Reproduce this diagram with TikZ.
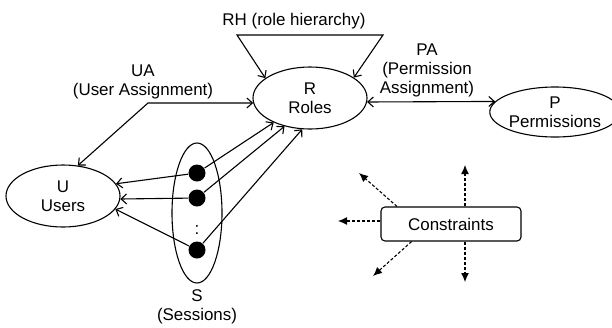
\documentclass[tikz,border=0pt]{standalone}
\usepackage{fontspec}
\setmainfont{Liberation Sans}
\usetikzlibrary{shapes.geometric}
\usetikzlibrary{arrows.meta}
\usetikzlibrary{positioning}

\begin{document}
\begin{tikzpicture}
    [
    x=1bp,y=-1bp,
    line width=1.1bp,
    >={Straight Barb[length=5.5bp,width=10bp]},
    every node/.style={font=\fontsize{17}{19}\selectfont,align=center},
    set/.style={ellipse,draw,inner sep=0pt},
    session/.style={circle,fill=black,inner sep=0pt,minimum size=17bp},
    constr/.style={-{Latex[length=9bp,width=8bp]},dash pattern=on 3bp off 2bp},
    ]
    \useasboundingbox (0,0) rectangle (612,327);
    \node (R) at (310,98) [set, minimum width=114bp, minimum height=62bp] {R\\Roles};
    \node (P) at (555,112) [set, minimum width=110bp, minimum height=50bp] {P\\Permissions};
    \node (U) at (63,196) [set, minimum width=114bp, minimum height=62bp] {U\\Users};
    \node (S) at (197,213) [set, minimum width=50bp, minimum height=140bp] {};
    \node (Slabel) at (197,307) {S\\(Sessions)};
    \node (s1) at (197,173) [session] {};
    \node (s2) at (197,198) [session] {};
    \node (s3) at (197,250) [session] {};
    \node (dots) at (197,230) {:};
    \node (C) at (451,224) [draw, rounded corners=4bp, minimum width=140bp, minimum height=34bp] {Constraints};

    % assignment labels
    \node (RH) at (294,21) {RH (role hierarchy)};
    \node (UA) at (143,82) {UA\\(User Assignment)};
    \node (PA) at (427,70) {PA\\(Permission\\Assignment)};

    \coordinate (rhl) at (237,35);
    \coordinate (rhr) at (383,35);
    \coordinate (ua) at (148,103);
    \draw [<->] (R.156) -- (rhl) -- (rhr) -- (R.25);
    \draw [<->] (U.64) -- (ua) -- (R.185);
    \draw [<->] (R.-4) -- (P.170);

    % sessions
    \draw [->] (s1) -- (U.13);
    \draw [->] (s2) -- (U.-3);
    \draw [->] (s3) -- (U.-14);
    \draw [->] (s1) -- (R.214);
    \draw [->] (s2) -- (R.228);
    \draw [->] (s3) -- (R.256);

    % constraints
    \coordinate (cu) at (465,165);
    \coordinate (cd) at (465,282);
    \coordinate (cl) at (338,221);
    \coordinate (cul) at (359,173);
    \coordinate (cdl) at (373,276);
    \draw [constr] (C.north -| cu) -- (cu);
    \draw [constr] (C.south -| cd) -- (cd);
    \draw [constr] (C.west |- cl) -- (cl);
    \draw [constr] (C.162) -- (cul);
    \draw [constr] (C.204) -- (cdl);
  \end{tikzpicture}
\end{document}
